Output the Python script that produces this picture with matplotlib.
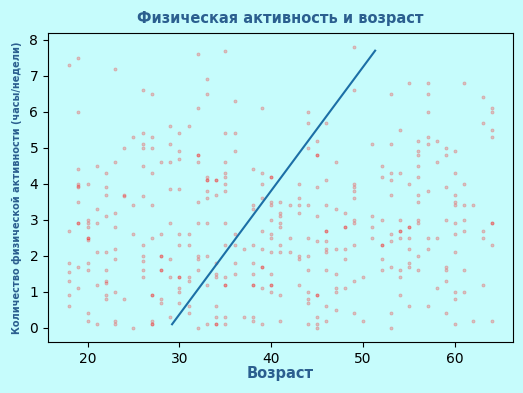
import matplotlib
matplotlib.use("Agg")
import matplotlib.pyplot as plt

# activity values (hours/week) read per age
activity_by_age = {
    18: [7.3, 2.7, 1.8, 1.55, 1.3, 0.9, 0.6],
    19: [7.5, 6.0, 4.4, 4.0, 3.95, 3.9, 3.5, 2.9, 2.9, 1.7, 1.1],
    20: [4.0, 3.0, 2.9, 2.8, 2.5, 2.5, 2.45, 1.8, 1.6, 0.4, 0.2],
    21: [4.5, 3.3, 2.9, 2.1, 1.2, 0.1],
    22: [4.3, 3.9, 3.7, 3.1, 2.1, 1.6, 1.3, 1.25, 0.9, 0.8],
    23: [7.2, 4.6, 3.2, 2.8, 2.2, 1.9, 1.0, 0.2, 0.1],
    24: [5.0, 3.7, 3.65, 0.8],
    25: [5.3, 3.4, 2.6, 0.0],
    26: [6.6, 5.4, 5.1, 5.0, 4.5, 3.65, 2.3, 2.0, 1.85, 1.6, 1.4],
    27: [6.5, 5.3, 5.0, 4.3, 3.4, 2.5, 0.9, 0.9, 0.2, 0.1, 0.1],
    28: [4.6, 2.6, 2.0, 2.0, 1.6, 1.6, 0.8, 0.7],
    29: [5.6, 5.1, 4.6, 3.85, 2.9, 1.9, 1.4, 0.3],
    30: [5.4, 4.9, 4.7, 3.85, 2.6, 2.3, 1.4, 1.4, 1.1, 1.0, 0.7],
    31: [5.6, 2.6, 2.3, 1.4, 1.3, 0.6, 0.4],
    32: [7.6, 6.1, 4.8, 4.8, 4.6, 3.5, 2.9, 2.0, 1.9, 1.6, 0.0],
    33: [6.9, 6.5, 4.2, 4.1, 4.1, 3.8, 3.6, 2.9, 2.0, 1.2, 0.1],
    34: [4.1, 4.1, 3.7, 1.8, 1.5, 1.4, 0.6, 0.3, 0.1, 0.1],
    35: [7.7, 5.4, 4.6, 4.3, 4.2, 4.0, 3.8, 2.9, 2.3, 1.4, 1.2, 1.2, 0.3, 0.1],
    36: [6.3, 5.4, 4.9, 2.6, 2.3, 1.8, 1.5],
    37: [2.2, 0.3],
    38: [4.4, 3.4, 3.3, 2.3, 1.8, 1.5, 1.2, 1.2, 0.3, 0.2],
    39: [6.1, 4.3, 4.0, 3.6, 2.7, 2.2, 1.7, 1.7, 1.1, 0.1],
    40: [4.2, 4.2, 3.5, 3.4, 3.0, 2.6, 2.5, 2.1, 1.5, 1.2, 1.2, 1.0],
    41: [3.5, 3.2, 3.1, 2.9, 2.8, 2.3, 2.1, 0.9, 0.2],
    42: [3.4, 2.5, 2.1],
    43: [4.0, 3.6, 3.4, 3.2, 2.0, 1.9, 1.2],
    44: [6.0, 5.7, 5.0, 3.4, 2.5, 2.0, 1.6, 1.0, 0.8, 0.7, 0.1],
    45: [5.2, 4.8, 4.8, 3.9, 3.1, 2.4, 0.9, 0.9, 0.3, 0.1, 0.0],
    46: [5.7, 4.1, 3.4, 2.7, 2.7, 2.4, 2.2, 2.1, 1.6, 0.6, 0.2],
    47: [4.6, 3.3, 2.2, 1.5, 1.1, 1.0, 0.5],
    48: [3.2, 2.8, 2.8, 2.2, 1.9, 1.1],
    49: [7.8, 6.6, 4.0, 3.9, 3.8, 3.6, 3.0, 2.9, 2.3, 1.3, 0.4],
    50: [1.4, 0.2],
    51: [5.1, 3.1, 2.8, 2.5],
    52: [4.5, 4.2, 3.0, 2.3, 2.3, 1.9, 1.6],
    53: [6.5, 5.1, 4.3, 4.1, 3.7, 2.6, 2.4, 1.7, 0.4, 0.0],
    54: [5.5, 4.3, 3.0, 2.7, 2.7, 2.5, 1.6, 1.4, 0.9],
    55: [6.8, 4.0, 2.8, 2.8, 2.5, 2.2, 1.8, 1.7, 0.6],
    56: [5.2, 4.9, 4.8, 4.5, 4.2, 3.7, 3.5, 3.0, 2.9, 2.0, 1.6],
    57: [6.8, 6.5, 6.0, 5.3, 5.1, 3.8, 2.5, 2.2, 0.6],
    58: [5.2, 4.6, 2.5, 1.1],
    59: [5.0, 4.8, 3.9, 3.0, 1.7, 1.6, 1.3, 0.4],
    60: [4.9, 4.3, 3.7, 3.5, 3.4, 2.9, 2.6, 2.1, 1.0, 0.8, 0.1],
    61: [6.8, 4.0, 3.4, 3.0, 2.7, 1.6, 1.0],
    62: [3.4, 0.2],
    63: [6.4, 5.7, 2.7, 2.5, 1.2],
    64: [6.1, 6.0, 5.5, 5.3, 2.9, 2.9, 2.3, 0.2],
}

ages = [a for a, vals in activity_by_age.items() for _ in vals]
activity = [v for vals in activity_by_age.values() for v in vals]

line_x = [29.2, 51.3]
line_y = [0.1, 7.7]

title = "Физическая активность и возраст"
xlabel = "Возраст"
ylabel = "Количество физической активности (часы/недели)"

bg = "#c6fcfc"
txt_color = "#2b5f8f"

fig = plt.figure(figsize=(5.23, 3.93), dpi=100, facecolor=bg)
ax = fig.add_axes([0.0918, 0.130, 0.889, 0.786])
ax.set_facecolor(bg)

ax.scatter(ages, activity, s=5, color="red", alpha=0.22, linewidths=0.6)
ax.plot(line_x, line_y, color="#1c6fa6", linewidth=1.5)

ax.set_title(title, fontsize=10.5, fontweight="bold", color=txt_color, pad=7)
ax.set_xlabel(xlabel, fontsize=10.5, fontweight="bold", color=txt_color, labelpad=0)
ax.set_ylabel(ylabel, fontsize=7, fontweight="bold", color=txt_color, labelpad=5)

ax.set_xticks([20, 30, 40, 50, 60])
ax.set_yticks(range(0, 9))

fig.savefig("out.png", dpi=100, facecolor=bg)
